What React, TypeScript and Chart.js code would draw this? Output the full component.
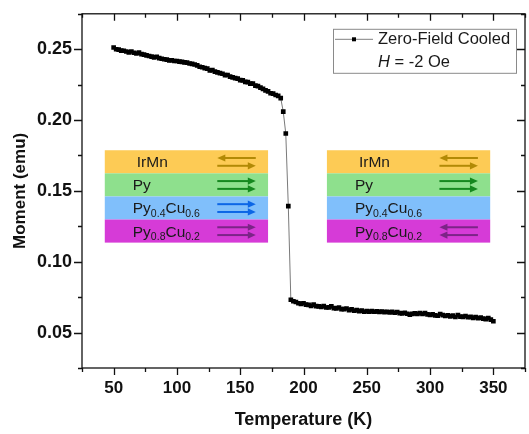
import React, { useEffect, useRef } from "react";
import { Chart, registerables } from "chart.js";

Chart.register(...registerables);

// ---------- data ----------
const temperatures = [
  50, 52, 54, 56, 58, 60, 62, 64, 66, 68, 70, 72, 74, 76, 78, 80, 82, 84, 86, 88,
  90, 92, 94, 96, 98, 100, 102, 104, 106, 108, 110, 112, 114, 116, 118, 120, 122, 124, 126, 128,
  130, 132, 134, 136, 138, 140, 142, 144, 146, 148, 150, 152, 154, 156, 158, 160, 162, 164, 166, 168,
  170, 172, 174, 176, 178, 180, 182, 184, 186, 188, 190, 192, 194, 196, 198, 200, 202, 204, 206, 208,
  210, 212, 214, 216, 218, 220, 222, 224, 226, 228, 230, 232, 234, 236, 238, 240, 242, 244, 246, 248,
  250, 252, 254, 256, 258, 260, 262, 264, 266, 268, 270, 272, 274, 276, 278, 280, 282, 284, 286, 288,
  290, 292, 294, 296, 298, 300, 302, 304, 306, 308, 310, 312, 314, 316, 318, 320, 322, 324, 326, 328,
  330, 332, 334, 336, 338, 340, 342, 344, 346, 348, 350,
];

const moments = [
  0.2512, 0.2500, 0.2497, 0.2490, 0.2489, 0.2484, 0.2478, 0.2484, 0.2475, 0.2470,
  0.2476, 0.2465, 0.2462, 0.2456, 0.2452, 0.2448, 0.2442, 0.2447, 0.2437, 0.2433,
  0.2429, 0.2427, 0.2421, 0.2422, 0.2417, 0.2417, 0.2413, 0.2411, 0.2407, 0.2405,
  0.2399, 0.2397, 0.2392, 0.2386, 0.2376, 0.2373, 0.2367, 0.2363, 0.2351, 0.2352,
  0.2342, 0.2337, 0.2331, 0.2327, 0.2317, 0.2318, 0.2307, 0.2301, 0.2296, 0.2292,
  0.2282, 0.2280, 0.2269, 0.2268, 0.2257, 0.2257, 0.2243, 0.2240, 0.2229, 0.2220,
  0.2209, 0.2202, 0.2189, 0.2187, 0.2177, 0.2171, 0.2155, 0.2060, 0.1905, 0.1393,
  0.0732, 0.0721, 0.0716, 0.0707, 0.0703, 0.0707, 0.0697, 0.0696, 0.0689, 0.0697,
  0.0687, 0.0685, 0.0681, 0.0687, 0.0677, 0.0678, 0.0685, 0.0673, 0.0671, 0.0677,
  0.0665, 0.0665, 0.0670, 0.0659, 0.0664, 0.0654, 0.0659, 0.0651, 0.0655, 0.0647,
  0.0652, 0.0648, 0.0651, 0.0647, 0.0650, 0.0646, 0.0649, 0.0644, 0.0647, 0.0643,
  0.0646, 0.0640, 0.0645, 0.0637, 0.0635, 0.0640, 0.0633, 0.0627, 0.0632, 0.0636,
  0.0632, 0.0638, 0.0631, 0.0637, 0.0629, 0.0624, 0.0629, 0.0621, 0.0619, 0.0631,
  0.0623, 0.0617, 0.0622, 0.0614, 0.0620, 0.0610, 0.0623, 0.0613, 0.0611, 0.0617,
  0.0608, 0.0611, 0.0604, 0.0609, 0.0601, 0.0605, 0.0598, 0.0595, 0.0602, 0.0591,
  0.0580,
];

const xMajorTicks = [50, 100, 150, 200, 250, 300, 350];
const xMinorTicks = [25, 75, 125, 175, 225, 275, 325, 375];
const yMajorTicks = [0.05, 0.1, 0.15, 0.2, 0.25];
const yMinorTicks = [0.025, 0.075, 0.125, 0.175, 0.225, 0.275];

const seriesLabel = "Zero-Field Cooled";
const fieldNote = "= -2 Oe";

// layer stack diagrams
const layerNames = ["IrMn", "Py", "Py_{0.4}Cu_{0.6}", "Py_{0.8}Cu_{0.2}"];
const layerFills = ["#FDCB55", "#8EE08D", "#80BFFB", "#D63BD7"];
const layerArrowColors = ["#B28A06", "#15881F", "#0C66E6", "#7C2487"];
const leftStackArrows = [["L", "R"], ["R", "R"], ["R", "R"], ["R", "R"]];
const rightStackArrows = [["L", "R"], ["R", "R"], [], ["L", "L"]];
// stack extents in data units (temperature span, moment top, row height)
const leftStackT = [43, 172];
const rightStackT = [218.5, 347.5];
const stackTopMoment = 0.1787;
const stackRowMoment = 0.0163;

const FONT = "'Liberation Sans', Arial, Helvetica, sans-serif";

function parseRich(s: string) {
  const parts: { t: string; sub: boolean }[] = [];
  const re = /_\{([^}]*)\}|([^_]+)/g;
  let m: RegExpExecArray | null;
  while ((m = re.exec(s))) {
    if (m[1] !== undefined) parts.push({ t: m[1], sub: true });
    else parts.push({ t: m[2], sub: false });
  }
  return parts;
}

function drawArrow(ctx: CanvasRenderingContext2D, x1: number, x2: number, y: number, dir: string, color: string) {
  ctx.save();
  ctx.strokeStyle = color;
  ctx.fillStyle = color;
  ctx.lineWidth = 2;
  const head = 8;
  const hh = 3.6;
  ctx.beginPath();
  if (dir === "R") {
    ctx.moveTo(x1, y);
    ctx.lineTo(x2 - head + 1, y);
    ctx.stroke();
    ctx.beginPath();
    ctx.moveTo(x2, y);
    ctx.lineTo(x2 - head, y - hh);
    ctx.lineTo(x2 - head, y + hh);
    ctx.closePath();
    ctx.fill();
  } else {
    ctx.moveTo(x2, y);
    ctx.lineTo(x1 + head - 1, y);
    ctx.stroke();
    ctx.beginPath();
    ctx.moveTo(x1, y);
    ctx.lineTo(x1 + head, y - hh);
    ctx.lineTo(x1 + head, y + hh);
    ctx.closePath();
    ctx.fill();
  }
  ctx.restore();
}

function drawStack(chart: any, tRange: number[], arrows: string[][]) {
  const ctx: CanvasRenderingContext2D = chart.ctx;
  const xs = chart.scales.x;
  const ys = chart.scales.y;
  const left = xs.getPixelForValue(tRange[0]);
  const right = xs.getPixelForValue(tRange[1]);
  layerNames.forEach((name, i) => {
    const top = ys.getPixelForValue(stackTopMoment - i * stackRowMoment);
    const bot = ys.getPixelForValue(stackTopMoment - (i + 1) * stackRowMoment);
    ctx.fillStyle = layerFills[i];
    ctx.fillRect(left, top, right - left, bot - top);
    const cy = (top + bot) / 2;
    let x = left + (i === 0 ? 32 : 28);
    ctx.fillStyle = "#1a1a1a";
    ctx.textBaseline = "alphabetic";
    ctx.textAlign = "left";
    for (const p of parseRich(name)) {
      if (p.sub) {
        ctx.font = `10.5px ${FONT}`;
        ctx.fillText(p.t, x, cy + 9);
      } else {
        ctx.font = `15.5px ${FONT}`;
        ctx.fillText(p.t, x, cy + 5.5);
      }
      x += ctx.measureText(p.t).width;
    }
    const a = arrows[i];
    const ax1 = left + 112.5;
    const ax2 = left + 151;
    if (a.length === 2) {
      drawArrow(ctx, ax1, ax2, cy - 3.8, a[0], layerArrowColors[i]);
      drawArrow(ctx, ax1, ax2, cy + 4, a[1], layerArrowColors[i]);
    }
  });
}

const decorPlugin = {
  id: "decor",
  beforeDatasetsDraw(chart: any) {
    drawStack(chart, leftStackT, leftStackArrows);
    drawStack(chart, rightStackT, rightStackArrows);
  },
  afterDraw(chart: any) {
    const ctx: CanvasRenderingContext2D = chart.ctx;
    const { left, right, top, bottom } = chart.chartArea;
    const xs = chart.scales.x;
    const ys = chart.scales.y;
    ctx.save();
    ctx.strokeStyle = "#111";
    ctx.lineWidth = 1.3;
    ctx.strokeRect(left, top, right - left, bottom - top);
    ctx.beginPath();
    const xt = (v: number, len: number) => {
      const x = Math.round(xs.getPixelForValue(v)) + 0.5;
      ctx.moveTo(x, bottom);
      ctx.lineTo(x, bottom + len);
      ctx.moveTo(x, top);
      ctx.lineTo(x, top + len);
    };
    const yt = (v: number, len: number) => {
      const y = Math.round(ys.getPixelForValue(v)) + 0.5;
      ctx.moveTo(left, y);
      ctx.lineTo(left - len, y);
      ctx.moveTo(right, y);
      ctx.lineTo(right - len, y);
    };
    xMajorTicks.forEach((v) => xt(v, 7));
    xMinorTicks.forEach((v) => xt(v, 4));
    yMajorTicks.forEach((v) => yt(v, 8));
    yMinorTicks.forEach((v) => yt(v, 4));
    ctx.stroke();

    // legend box
    const bx = right - 192;
    const by = top + 15;
    const bw = 183;
    const bh = 44;
    ctx.strokeStyle = "#8a8a8a";
    ctx.lineWidth = 1;
    ctx.strokeRect(bx + 0.5, by + 0.5, bw, bh);
    const ly = by + 10.5;
    ctx.strokeStyle = "#808080";
    ctx.beginPath();
    ctx.moveTo(bx + 2, ly);
    ctx.lineTo(bx + 40, ly);
    ctx.stroke();
    ctx.fillStyle = "#000";
    ctx.fillRect(bx + 19, ly - 2, 4, 4);
    ctx.fillStyle = "#1a1a1a";
    ctx.textBaseline = "middle";
    ctx.textAlign = "left";
    ctx.font = `16.5px ${FONT}`;
    ctx.fillText(seriesLabel, bx + 45, ly);
    ctx.font = `italic 16.5px ${FONT}`;
    ctx.fillText("H", bx + 45, ly + 23);
    const hw = ctx.measureText("H ").width;
    ctx.font = `16.5px ${FONT}`;
    ctx.fillText(fieldNote, bx + 45 + hw, ly + 23);
    ctx.restore();
  },
};

export default function App() {
  const ref = useRef<HTMLCanvasElement | null>(null);
  useEffect(() => {
    if (!ref.current) return;
    const points = temperatures.map((t, i) => ({ x: t, y: moments[i] }));
    const chart = new Chart(ref.current, {
      type: "line",
      data: {
        datasets: [
          {
            label: seriesLabel,
            data: points,
            borderColor: "#7a7a7a",
            borderWidth: 1,
            pointStyle: "rect",
            pointRadius: 3.3,
            pointBackgroundColor: "#000",
            pointBorderWidth: 0,
            tension: 0,
          },
        ],
      },
      options: {
        responsive: false,
        animation: false,
        layout: { padding: { top: 8, right: 2, left: 0, bottom: 0 } },
        plugins: { legend: { display: false }, tooltip: { enabled: false } },
        scales: {
          x: {
            type: "linear",
            min: 25,
            max: 375,
            afterFit: (s: any) => {
              s.height = 66;
            },
            afterBuildTicks: (s: any) => {
              s.ticks = xMajorTicks.map((v) => ({ value: v }));
            },
            ticks: {
              autoSkip: false,
              maxRotation: 0,
              padding: 3,
              color: "#111",
              font: { family: FONT, size: 17, weight: "bold" },
              callback: (v: any) => String(v),
            },
            grid: { display: true, drawOnChartArea: false, color: "rgba(0,0,0,0)", tickLength: 7 },
            border: { display: false },
            title: {
              display: true,
              text: "Temperature (K)",
              color: "#111",
              font: { family: FONT, size: 18, weight: "bold" },
              padding: { top: 0, bottom: 3 },
            },
          },
          y: {
            type: "linear",
            min: 0.025,
            max: 0.275,
            afterFit: (s: any) => {
              s.width = 82;
            },
            afterBuildTicks: (s: any) => {
              s.ticks = yMajorTicks.map((v) => ({ value: v }));
            },
            ticks: {
              autoSkip: false,
              padding: 3,
              color: "#111",
              font: { family: FONT, size: 18, weight: "bold" },
              callback: (v: any) => Number(v).toFixed(2),
            },
            grid: { display: true, drawOnChartArea: false, color: "rgba(0,0,0,0)", tickLength: 7 },
            border: { display: false },
            title: {
              display: true,
              text: "Moment (emu)",
              color: "#111",
              font: { family: FONT, size: 17, weight: "bold" },
              padding: { top: 10, bottom: 0 },
            },
          },
        },
      },
      plugins: [decorPlugin],
    } as any);
    return () => chart.destroy();
  }, []);
  return (
    <div style={{ position: "absolute", left: 0, top: 0, width: 529, height: 434, background: "#fff" }}>
      <canvas ref={ref} width={529} height={434} style={{ width: 529, height: 434, display: "block" }} />
    </div>
  );
}
